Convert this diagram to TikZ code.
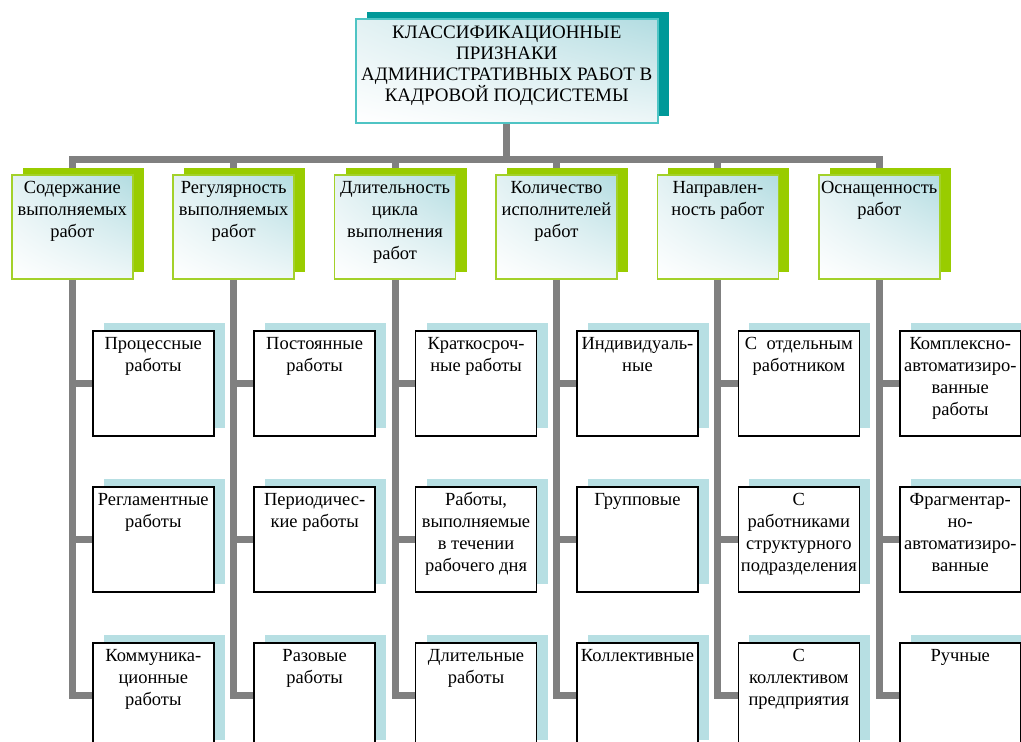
\documentclass[tikz,border=0pt]{standalone}
\usepackage{fontspec}
\setmainfont{Liberation Serif}
\usetikzlibrary{shadows,backgrounds,shadings}
\definecolor{connGray}{RGB}{128,128,128}
\definecolor{catBorder}{HTML}{A3D12A}
\definecolor{catShadow}{HTML}{99CC00}
\definecolor{catTop}{HTML}{B2DCE1}
\definecolor{catMid}{HTML}{E2F1F3}
\definecolor{titleShadow}{HTML}{009999}
\definecolor{titleBorder}{HTML}{4FC4C4}
\definecolor{leafShadow}{HTML}{B7DFE3}
\newcommand{\boxtxt}[3]{\parbox[t][#1][t]{#2}{\centering\rule{0pt}{19pt}#3}}
\begin{document}
\begin{tikzpicture}[x=1pt,y=1pt,
  conn/.style={draw=connGray,line width=7pt},
  titlebox/.style={anchor=north west,draw=titleBorder,line width=1.5pt,inner sep=1pt,shade,
    lower left=white,upper right=catTop,upper left=catMid,lower right=catMid!60!white,
    general shadow={fill=titleShadow,shadow xshift=11pt,shadow yshift=7pt},
    font=\fontsize{19}{21}\selectfont},
  catbox/.style={anchor=north west,draw=catBorder,line width=1.5pt,inner xsep=1pt,inner ysep=0pt,shade,
    lower left=white,upper right=catTop,upper left=catMid,lower right=catMid!60!white,
    general shadow={fill=catShadow,shadow xshift=11pt,shadow yshift=7pt},
    font=\fontsize{18.5}{22}\selectfont},
  leafbox/.style={anchor=north west,draw=black,line width=1.5pt,fill=white,inner xsep=1pt,inner ysep=0pt,
    general shadow={fill=leafShadow,shadow xshift=11pt,shadow yshift=8pt},
    font=\fontsize{18.5}{22}\selectfont}]
\useasboundingbox (0,0) rectangle (1021,-742);

% title
\node[titlebox] (title) at (355,-18) {\boxtxt{102pt}{300pt}{КЛАССИФИКАЦИОННЫЕ\\ПРИЗНАКИ\\АДМИНИСТРАТИВНЫХ РАБОТ В\\КАДРОВОЙ ПОДСИСТЕМЫ}};

% categories
\node[catbox] (c1) at (11,-174) {\boxtxt{104pt}{119pt}{Содержание\\выполняемых\\работ}};
\node[catbox] (c2) at (172.4,-174) {\boxtxt{104pt}{119pt}{Регулярность\\выполняемых\\работ}};
\node[catbox] (c3) at (333.8,-174) {\boxtxt{104pt}{119pt}{Длительность\\цикла\\выполнения\\работ}};
\node[catbox] (c4) at (495.2,-174) {\boxtxt{104pt}{119pt}{Количество\\исполнителей\\работ}};
\node[catbox] (c5) at (656.6,-174) {\boxtxt{104pt}{119pt}{Направлен-\\ность работ}};
\node[catbox] (c6) at (818,-174) {\boxtxt{104pt}{119pt}{Оснащенность\\работ}};

% leaves column 1
\node[leafbox] (f11) at (92,-330) {\boxtxt{105pt}{119pt}{Процессные\\работы}};
\node[leafbox] (f12) at (92,-486) {\boxtxt{105pt}{119pt}{Регламентные\\работы}};
\node[leafbox] (f13) at (92,-642) {\boxtxt{105pt}{119pt}{Коммуника-\\ционные\\работы}};
% column 2
\node[leafbox] (f21) at (253.4,-330) {\boxtxt{105pt}{119pt}{Постоянные\\работы}};
\node[leafbox] (f22) at (253.4,-486) {\boxtxt{105pt}{119pt}{Периодичес-\\кие работы}};
\node[leafbox] (f23) at (253.4,-642) {\boxtxt{105pt}{119pt}{Разовые\\работы}};
% column 3
\node[leafbox] (f31) at (414.8,-330) {\boxtxt{105pt}{119pt}{Краткосроч-\\ные работы}};
\node[leafbox] (f32) at (414.8,-486) {\boxtxt{105pt}{119pt}{Работы,\\выполняемые\\в течении\\рабочего дня}};
\node[leafbox] (f33) at (414.8,-642) {\boxtxt{105pt}{119pt}{Длительные\\работы}};
% column 4
\node[leafbox] (f41) at (576.2,-330) {\boxtxt{105pt}{119pt}{Индивидуаль-\\ные}};
\node[leafbox] (f42) at (576.2,-486) {\boxtxt{105pt}{119pt}{Групповые}};
\node[leafbox] (f43) at (576.2,-642) {\boxtxt{105pt}{119pt}{Коллективные}};
% column 5
\node[leafbox] (f51) at (737.6,-330) {\boxtxt{105pt}{119pt}{С\ \ отдельным\\работником}};
\node[leafbox] (f52) at (737.6,-486) {\boxtxt{105pt}{119pt}{С\\работниками\\структурного\\подразделения}};
\node[leafbox] (f53) at (737.6,-642) {\boxtxt{105pt}{119pt}{С\\коллективом\\предприятия}};
% column 6
\node[leafbox] (f61) at (899,-330) {\boxtxt{105pt}{119pt}{Комплексно-\\автоматизиро-\\ванные\\работы}};
\node[leafbox] (f62) at (899,-486) {\boxtxt{105pt}{119pt}{Фрагментар-\\но-\\автоматизиро-\\ванные}};
\node[leafbox] (f63) at (899,-642) {\boxtxt{105pt}{119pt}{Ручные}};

\begin{pgfonlayer}{background}
  \fill[white] (0,0) rectangle (1021,-742);
  \path (title.south) ++(0,-36) coordinate (bar);
  \draw[conn] (title.south) -- (bar);
  \draw[conn] (c1.north) -- (c1.north |- bar) -- (c6.north |- bar) -- (c6.north);
  \foreach \c in {2,3,4,5} {\draw[conn] (c\c.north) -- (c\c.north |- bar);}
  \foreach \c in {1,...,6} {
    \draw[conn] (c\c.south) |- (f\c3.west);
    \draw[conn] (f\c1.west) -- (f\c1.west -| c\c.south);
    \draw[conn] (f\c2.west) -- (f\c2.west -| c\c.south);
  }
\end{pgfonlayer}
\end{tikzpicture}
\end{document}
